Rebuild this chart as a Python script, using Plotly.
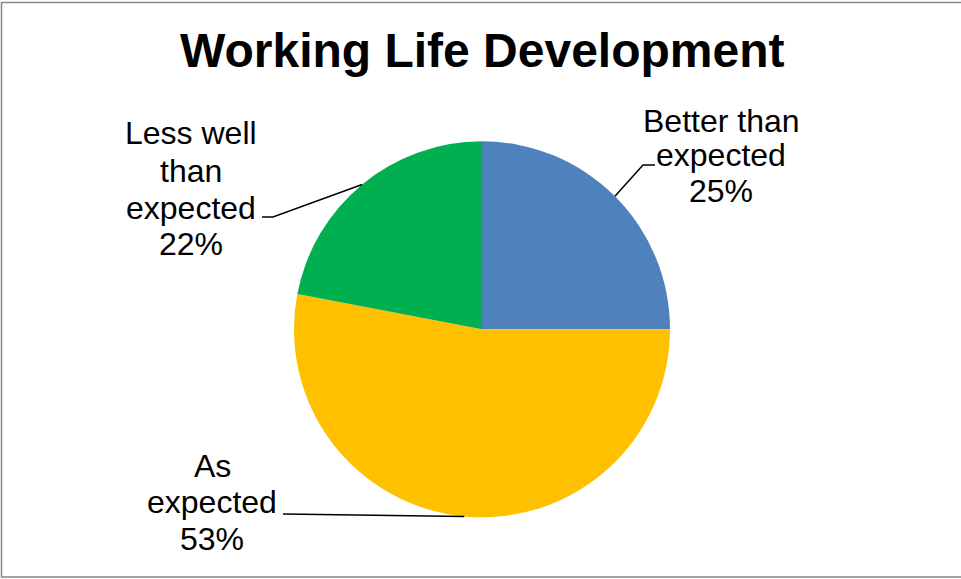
import math
import plotly.graph_objects as go

# Survey result: how working life developed compared with expectations
categories = ["Better than expected", "As expected", "Less well than expected"]
shares = [25, 53, 22]
colors = ["#4F81BD", "#FFC000", "#00B050"]
label_lines = [["Better than", "expected"], ["As", "expected"], ["Less well", "than", "expected"]]

W, H = 961, 579
CX, CY, R = 482, 329.3, 188          # pie centre and radius in pixels
FONT = "Liberation Sans, Arial, sans-serif"


def px(x):
    return x / W


def py(y):
    return 1 - y / H


fig = go.Figure(
    go.Pie(
        labels=categories,
        values=shares,
        marker=dict(colors=colors, line=dict(width=0)),
        sort=False,
        direction="clockwise",
        rotation=0,
        textinfo="none",
        hoverinfo="label+percent",
        domain=dict(x=[px(CX - R), px(CX + R)], y=[py(CY + R), py(CY - R)]),
        showlegend=False,
    )
)

# label block placement (centre x, first baseline, line step) and leader-line elbows
label_x = [721, 212, 191]
first_base = [132, 477, 145]
line_step = [35, 36.5, 37]
elbows = [[(643, 165), (655, 165)], [(283, 514)], [(273, 217), (262, 217)]]

annotations = []
shapes = []
total = sum(shares)
cum = 0
for i, (cat, val) in enumerate(zip(categories, shares)):
    mid = (cum + val / 2) / total * 2 * math.pi
    cum += val
    sx, sy = CX + R * math.sin(mid), CY - R * math.cos(mid)
    pts = [(sx, sy)] + elbows[i]
    path = "M " + " L ".join(f"{px(x)},{py(y)}" for x, y in pts)
    shapes.append(dict(type="path", xref="paper", yref="paper", path=path,
                       line=dict(color="black", width=1.5)))
    lines = label_lines[i] + [f"{val}%"]
    for k, txt in enumerate(lines):
        base = first_base[i] + k * line_step[i]
        annotations.append(dict(
            text=txt, x=px(label_x[i]), y=py(base - 11.5), xref="paper", yref="paper",
            xanchor="center", yanchor="middle", showarrow=False,
            font=dict(family=FONT, size=32, color="black"),
        ))

annotations.append(dict(
    text="<b>Working Life Development</b>", x=px(482), y=py(50), xref="paper", yref="paper",
    xanchor="center", yanchor="middle", showarrow=False,
    font=dict(family=FONT, size=48, color="black"),
))

# chart frame
shapes.append(dict(type="rect", xref="paper", yref="paper",
                   x0=px(1.5), x1=px(965), y0=py(577), y1=py(2.5),
                   line=dict(color="#878787", width=1.5)))

fig.update_layout(
    width=W, height=H,
    margin=dict(l=0, r=0, t=0, b=0),
    paper_bgcolor="white",
    plot_bgcolor="white",
    annotations=annotations,
    shapes=shapes,
)

fig.write_html("out.html")
